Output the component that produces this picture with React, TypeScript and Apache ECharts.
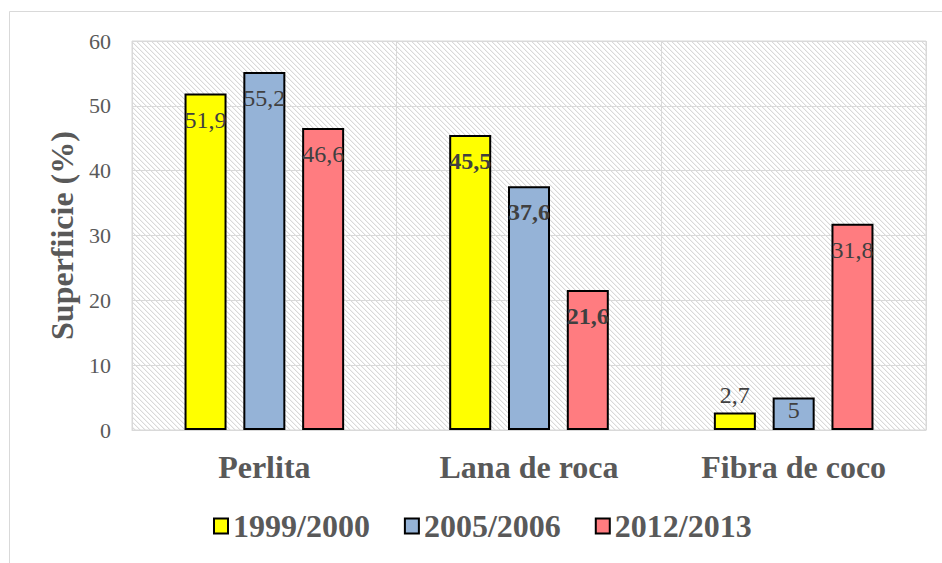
import { useEffect, useRef } from 'react';
import * as echarts from 'echarts';

const categories = ['Perlita', 'Lana de roca', 'Fibra de coco'];
const seriesNames = ['1999/2000', '2005/2006', '2012/2013'];
const values1999 = [51.9, 45.5, 2.7];
const values2005 = [55.2, 37.6, 5];
const values2012 = [46.6, 21.6, 31.8];
const seriesValues = [values1999, values2005, values2012];
const seriesColors = ['#FFFF00', '#95B3D7', '#FF7C80'];
const boldLabelByCategory = [false, true, false];
const yMin = 0;
const yMax = 60;
const yInterval = 10;
const yAxisTitle = 'Superfiicie (%)';

const FONT = "'Liberation Serif', 'Times New Roman', serif";

function makeHatch() {
  const size = 5;
  const c = document.createElement('canvas');
  c.width = size;
  c.height = size;
  const ctx = c.getContext('2d')!;
  const img = ctx.createImageData(size, size);
  for (let y = 0; y < size; y++) {
    for (let x = 0; x < size; x++) {
      const d = (((x - y) % size) + size) % size;
      let v = 255;
      if (d === 0) v = 217;
      else if (d === 1) v = 242;
      const k = (y * size + x) * 4;
      img.data[k] = v;
      img.data[k + 1] = v;
      img.data[k + 2] = v;
      img.data[k + 3] = 255;
    }
  }
  ctx.putImageData(img, 0, 0);
  return { image: c, repeat: 'repeat', imageWidth: size, imageHeight: size };
}

export default function App() {
  const ref = useRef<HTMLDivElement>(null);

  useEffect(() => {
    if (!ref.current) return;
    const chart = echarts.init(ref.current, null, { renderer: 'svg' });

    const series = seriesNames.map((name, si) => ({
      name,
      type: 'bar',
      barWidth: 42,
      barGap: '40%',
      itemStyle: {
        color: seriesColors[si],
        borderColor: '#000',
        borderWidth: 2,
      },
      label: {
        show: true,
        fontFamily: FONT,
        fontSize: 24,
        color: '#404040',
        formatter: (p: any) => String(p.value).replace('.', ','),
      },
      data: seriesValues[si].map((v, i) => ({
        value: v,
        label: {
          position: v < 4 ? 'top' : 'insideTop',
          distance: v < 4 ? 5 : v < 10 ? 0 : 14,
          fontWeight: boldLabelByCategory[i] ? 'bold' : 'normal',
        },
      })),
    }));

    chart.setOption({
      animation: false,
      backgroundColor: '#fff',
      graphic: [
        {
          type: 'rect',
          shape: { x: 9.5, y: 11.5, width: 1200, height: 1000 },
          style: { fill: 'none', stroke: '#d9d9d9', lineWidth: 1 },
          silent: true,
          z: -10,
        },
      ],
      grid: {
        left: 132,
        right: 16,
        top: 41,
        bottom: 133,
        show: true,
        borderColor: '#d9d9d9',
        borderWidth: 1,
        backgroundColor: makeHatch(),
      },
      legend: {
        data: seriesNames,
        left: 213,
        top: 510,
        padding: 0,
        icon: 'rect',
        itemWidth: 14,
        itemHeight: 15,
        itemGap: 34,
        itemStyle: { borderWidth: 2, borderColor: '#000' },
        textStyle: {
          fontFamily: FONT,
          fontSize: 32,
          fontWeight: 'bold',
          color: '#595959',
        },
      },
      xAxis: {
        type: 'category',
        data: categories,
        z: 3,
        axisLine: { show: true, lineStyle: { color: '#d9d9d9', width: 1 } },
        axisTick: { show: false },
        splitLine: { show: true, lineStyle: { color: '#d9d9d9', width: 1 } },
        axisLabel: {
          margin: 21,
          fontFamily: FONT,
          fontSize: 32,
          fontWeight: 'bold',
          color: '#595959',
        },
      },
      yAxis: {
        type: 'value',
        min: yMin,
        max: yMax,
        interval: yInterval,
        name: yAxisTitle,
        nameLocation: 'middle',
        nameRotate: 90,
        nameGap: 54,
        nameTextStyle: {
          fontFamily: FONT,
          fontSize: 32,
          fontWeight: 'bold',
          color: '#595959',
        },
        axisLine: { show: false },
        axisTick: { show: false },
        splitLine: { show: true, lineStyle: { color: '#d9d9d9', width: 1 } },
        axisLabel: {
          margin: 21,
          fontFamily: FONT,
          fontSize: 22,
          color: '#595959',
        },
      },
      series,
    });

    return () => {
      chart.dispose();
    };
  }, []);

  return (
    <div
      ref={ref}
      style={{ position: 'fixed', left: 0, top: 0, width: 942, height: 563 }}
    />
  );
}
